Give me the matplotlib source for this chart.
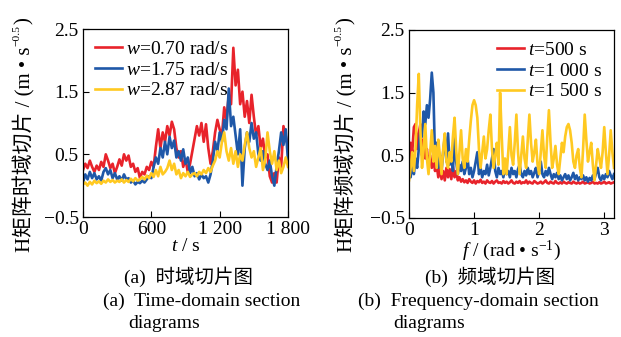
import numpy as np
import matplotlib
matplotlib.use("Agg")
import matplotlib.pyplot as plt
from matplotlib.ticker import FixedLocator

plt.rcParams['font.family'] = ['Liberation Serif', 'Noto Sans CJK SC']
plt.rcParams['mathtext.fontset'] = 'custom'
plt.rcParams['mathtext.rm'] = 'Liberation Serif'
plt.rcParams['mathtext.it'] = 'Liberation Serif:italic'
plt.rcParams['axes.unicode_minus'] = True

# ------------------------------------------------------------
# (a) time-domain slices, sampled every 20 s from 0 to 1800 s
# ------------------------------------------------------------
t_step = 20
w070 = [0.25, 0.35, 0.28, 0.40, 0.30, 0.22, 0.32, 0.25, 0.38, 0.30,
        0.50, 0.40, 0.28, 0.35, 0.20, 0.30, 0.42, 0.32, 0.50, 0.40,
        0.48, 0.30, 0.35, 0.22, 0.28, 0.12, 0.22, 0.18, 0.30, 0.25,
        0.38, 0.30, 0.62, 0.90, 0.60, 0.85, 0.70, 0.95, 0.80, 1.02,
        0.90, 0.60, 0.45, 0.55, 0.30, 0.42, 0.22, 0.35, 0.55, 0.75,
        0.95, 0.80, 1.00, 0.70, 0.98, 0.60, 0.35, 0.55, 0.85, 1.05,
        0.90, 0.80, 1.25, 1.05, 1.45, 1.30, 2.20, 1.60, 1.85, 1.30,
        1.50, 1.10, 1.35, 1.00, 1.45, 1.10, 0.80, 0.95, 0.60, 0.75,
        0.45, 0.50, 0.15, 0.05, 0.20, 0.05, 0.45, 0.30, 0.95, 0.80,
        0.60]
w175 = [0.05, 0.18, 0.10, 0.22, 0.12, 0.20, 0.10, 0.15, 0.08, 0.22,
        0.28, 0.18, 0.25, 0.12, 0.20, 0.10, 0.15, 0.08, 0.18, 0.10,
        0.12, 0.05, 0.08, 0.02, 0.06, 0.04, 0.08, 0.05, 0.10, 0.15,
        0.12, 0.30, 0.45, 0.35, 0.60, 0.45, 0.70, 0.50, 0.78, 0.60,
        0.72, 0.45, 0.55, 0.40, 0.58, 0.35, 0.45, 0.20, 0.30, 0.15,
        0.20, 0.10, 0.18, 0.12, 0.15, 0.05, 0.18, 0.40, 0.70, 0.55,
        0.85, 0.70, 1.05, 0.90, 1.55, 0.95, 1.10, 0.80, 0.50, 0.90,
        0.00, 0.60, 0.85, 0.70, 1.00, 0.75, 0.85, 0.50, 0.40, 0.55,
        0.35, 0.25, 0.40, 0.15, 0.00, 0.30, 0.55, 0.85, 0.65, 0.90,
        0.40]
w287 = [0.02, 0.05, 0.00, 0.06, 0.02, 0.08, 0.04, 0.07, 0.03, 0.08,
        0.05, 0.10, 0.06, 0.09, 0.05, 0.08, 0.06, 0.10, 0.05, 0.09,
        0.06, 0.11, 0.07, 0.12, 0.08, 0.10, 0.14, 0.10, 0.16, 0.12,
        0.20, 0.14, 0.25, 0.15, 0.30, 0.18, 0.22, 0.28, 0.40, 0.25,
        0.35, 0.18, 0.25, 0.12, 0.20, 0.15, 0.22, 0.14, 0.18, 0.20,
        0.15, 0.22, 0.18, 0.25, 0.20, 0.28, 0.22, 0.32, 0.40, 0.55,
        0.45, 0.70, 0.85, 0.55, 0.40, 0.60, 0.35, 0.55, 0.30, 0.50,
        0.40, 0.65, 0.85, 0.60, 0.45, 0.55, 0.30, 0.45, 0.60, 0.25,
        0.40, 0.85, 0.55, 0.35, 0.55, 0.25, 0.40, 0.20, 0.30, 0.45,
        0.30]

# ------------------------------------------------------------
# (b) frequency-domain slices, sampled every 0.025 rad/s
# ------------------------------------------------------------
f_step = 0.025
t500 = [0.30, 0.70, 0.55, 0.95, 1.00, 0.60, 0.85, 1.00, 0.50, 0.75,
        0.45, 0.60, 0.35, 0.50, 0.30, 0.45, 0.25, 0.35, 0.15, 0.30,
        0.12, 0.25, 0.10, 0.30, 0.15, 0.28, 0.12, 0.32, 0.15, 0.25,
        0.10, 0.15, 0.08, 0.12, 0.07, 0.10, 0.06, 0.12, 0.08, 0.06,
        0.10, 0.05, 0.09, 0.07, 0.11, 0.06, 0.08, 0.05, 0.10, 0.07,
        0.06, 0.09, 0.05, 0.08, 0.10, 0.06, 0.07, 0.05, 0.09, 0.06,
        0.08, 0.05, 0.07, 0.10, 0.06, 0.05, 0.08, 0.06, 0.09, 0.05,
        0.07, 0.06, 0.10, 0.05, 0.08, 0.06, 0.05, 0.09, 0.07, 0.05,
        0.06, 0.08, 0.05, 0.07, 0.10, 0.06, 0.05, 0.08, 0.06, 0.05,
        0.09, 0.06, 0.05, 0.07, 0.05, 0.08, 0.06, 0.05, 0.07, 0.06,
        0.05, 0.08, 0.06, 0.05, 0.07, 0.05, 0.06, 0.08, 0.05, 0.06,
        0.07, 0.05, 0.06, 0.08, 0.05, 0.06, 0.05, 0.07, 0.05, 0.06,
        0.08, 0.05, 0.06, 0.07, 0.05, 0.06, 0.07]
t1000 = [0.25, 0.15, 0.35, 0.20, 0.45, 0.30, 0.60, 0.90, 0.80, 1.20,
         1.00, 1.30, 1.10, 1.40, 1.82, 1.50, 0.45, 0.70, 0.30, 0.50,
         0.25, 0.55, 0.80, 0.40, 0.85, 0.35, 0.55, 0.25, 0.80, 0.40,
         0.20, 0.35, 0.25, 0.40, 0.20, 0.30, 0.45, 0.20, 0.30, 0.15,
         0.25, 0.40, 0.55, 0.20, 0.30, 0.15, 0.25, 0.20, 0.35, 0.18,
         0.30, 0.45, 0.60, 0.25, 0.15, 0.30, 0.20, 0.25, 0.15, 0.30,
         0.20, 0.25, 0.15, 0.30, 0.20, 0.25, 0.15, 0.28, 0.35, 0.20,
         0.15, 0.25, 0.18, 0.30, 0.20, 0.25, 0.15, 0.22, 0.30, 0.15,
         0.25, 0.40, 0.20, 0.15, 0.25, 0.18, 0.30, 0.20, 0.12, 0.20,
         0.15, 0.22, 0.12, 0.18, 0.10, 0.15, 0.20, 0.12, 0.18, 0.10,
         0.15, 0.22, 0.12, 0.18, 0.10, 0.15, 0.12, 0.18, 0.10, 0.15,
         0.08, 0.14, 0.10, 0.18, 0.12, 0.22, 0.30, 0.15, 0.10, 0.18,
         0.12, 0.20, 0.15, 0.25, 0.18, 0.12, 0.20]
t1500 = [0.10, 0.30, 0.55, 0.25, 0.60, 1.30, 1.80, 0.90, 0.30, 0.60,
         1.00, 0.45, 0.20, 0.55, 0.90, 0.40, 0.65, 0.30, 0.75, 0.50,
         0.20, 0.60, 0.85, 0.40, 0.30, 0.55, 0.40, 0.80, 1.10, 0.60,
         0.20, 0.55, 0.90, 0.45, 0.30, 0.60, 0.40, 0.75, 1.05, 1.30,
         1.38, 1.30, 1.10, 0.60, 0.30, 0.55, 0.80, 0.45, 0.60, 0.90,
         1.15, 0.60, 0.30, 0.50, 0.70, 0.35, 1.50, 0.80, 0.20, 0.45,
         0.20, 0.55, 0.95, 0.50, 0.35, 0.70, 1.15, 0.55, 0.20, 0.50,
         0.80, 0.45, 0.30, 0.75, 1.15, 0.70, 0.40, 0.55, 0.75, 0.35,
         0.20, 0.55, 0.90, 0.50, 0.30, 0.80, 1.22, 0.70, 0.30, 0.45,
         0.65, 0.35, 0.20, 0.45, 0.70, 0.55, 0.80, 0.95, 1.00, 0.90,
         0.70, 0.40, 0.30, 0.50, 0.60, 0.30, 0.15, 0.60, 1.15, 0.75,
         0.40, 0.55, 0.70, 0.35, 0.10, 0.35, 0.60, 0.45, 0.30, 0.55,
         0.95, 0.55, 0.20, 0.50, 0.90, 0.55, 0.30]

left_labels = ["$w$=0.70 rad/s", "$w$=1.75 rad/s", "$w$=2.87 rad/s"]
right_labels = ["$t$=500 s", "$t$=1 000 s", "$t$=1 500 s"]
colors = ["#E8232B", "#1F58A8", "#FFC921"]

W, H = 621, 337
fig = plt.figure(figsize=(W / 100, H / 100), dpi=100)
ax1 = fig.add_axes([83 / W, 1 - 217 / H, 205 / W, 188 / H])
ax2 = fig.add_axes([409 / W, 1 - 218 / H, 205 / W, 188 / H])

for ser, lab, c in zip([w070, w175, w287], left_labels, colors):
    t = np.arange(len(ser)) * t_step
    ax1.plot(t, ser, color=c, lw=1.9, label=lab)

for ser, lab, c in zip([t500, t1000, t1500], right_labels, colors):
    f = np.arange(len(ser)) * f_step
    ax2.plot(f, ser, color=c, lw=1.9, label=lab)

ax1.set_xlim(0, 1800)
ax1.xaxis.set_major_locator(FixedLocator([0, 600, 1200, 1800]))
ax1.set_xticklabels(["0", "600", "1 200", "1 800"])
ax2.set_xlim(0, 3.15)
ax2.xaxis.set_major_locator(FixedLocator([0, 1, 2, 3]))

for ax in (ax1, ax2):
    ax.set_ylim(-0.5, 2.5)
    ax.yaxis.set_major_locator(FixedLocator([-0.5, 0.5, 1.5, 2.5]))
    ax.tick_params(direction="in", length=4, width=0.8, labelsize=14, pad=3)
    for sp in ax.spines.values():
        sp.set_linewidth(0.9)

ax1.set_xlabel("$t$ / s", fontsize=14, labelpad=0)
ax2.set_xlabel("$f$ / (rad • s$^{-1}$)", fontsize=14, labelpad=0)

leg_kw = dict(frameon=False, fontsize=14, handlelength=1.4, handletextpad=0.2,
              labelspacing=0.15, borderaxespad=0.2)
ax1.legend(loc="upper left", **leg_kw)
ax2.legend(loc="upper right", **leg_kw)


# ------------------------------------------------------------
# rotated y labels: CJK text + unit with a small superscript
# (mathtext can't fall back to a CJK font, so build it in parts)
# ------------------------------------------------------------
def stacked_ylabel(x_px, y_bottom_px, main, sup, tail, size=15):
    renderer = fig.canvas.get_renderer()
    inv = fig.transFigure.inverted()
    y_disp = H - y_bottom_px
    t1 = fig.text(*inv.transform((x_px, y_disp)), main, rotation=90,
                  ha="center", va="bottom", fontsize=size)
    bb = t1.get_window_extent(renderer)
    t2 = fig.text(*inv.transform((x_px - 0.45 * size, bb.y1 + 1)), sup,
                  rotation=90, ha="center", va="bottom", fontsize=size * 0.55)
    bb2 = t2.get_window_extent(renderer)
    fig.text(*inv.transform((x_px, bb2.y1 + 1)), tail, rotation=90,
             ha="center", va="bottom", fontsize=size)


stacked_ylabel(24, 252, "H矩阵时域切片 / (m • s", "\u22120.5", ")")
stacked_ylabel(346, 252, "H矩阵频域切片 / (m • s", "\u22120.5", ")")

# captions
cap = 14
fig.text(188 / W, 1 - 277 / H, "(a)  时域切片图", fontsize=cap, ha="center", va="center")
fig.text(103 / W, 1 - 301 / H, "(a)  Time-domain section", fontsize=cap, ha="left", va="center")
fig.text(128 / W, 1 - 323 / H, "diagrams", fontsize=cap, ha="left", va="center")
fig.text(490 / W, 1 - 277 / H, "(b)  频域切片图", fontsize=cap, ha="center", va="center")
fig.text(358 / W, 1 - 301 / H, "(b)  Frequency-domain section", fontsize=cap, ha="left", va="center")
fig.text(393 / W, 1 - 323 / H, "diagrams", fontsize=cap, ha="left", va="center")

fig.savefig("out.png", dpi=100)
